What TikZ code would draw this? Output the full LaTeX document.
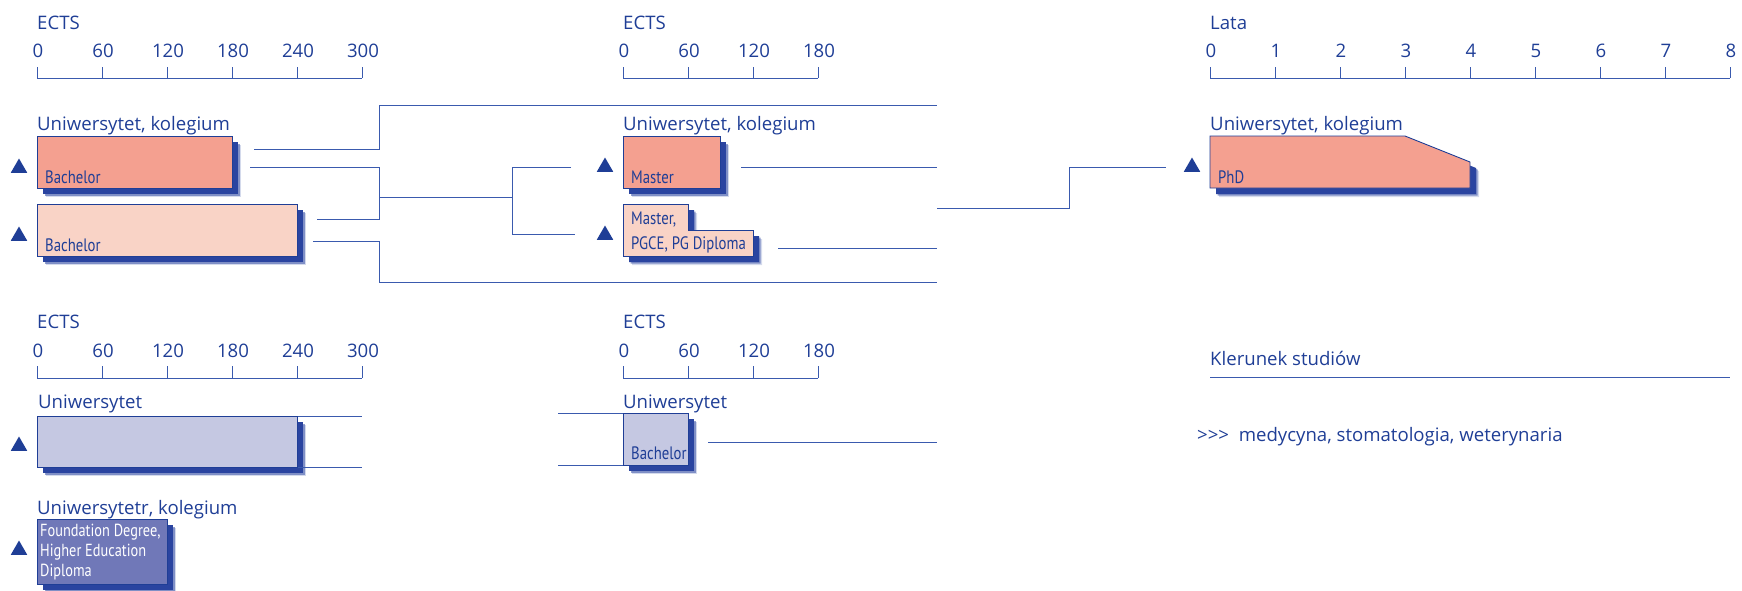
\documentclass[tikz,border=0pt]{standalone}
\usepackage{fontspec}
\setmainfont{Open Sans}
\newfontfamily\condfont[FakeStretch=0.82]{PT Sans}
\usepackage{tikz}
\usetikzlibrary{shapes.geometric,shadows,positioning}
\definecolor{ink}{HTML}{1F3E96}
\definecolor{rule}{HTML}{3A5AAE}
\definecolor{salmon}{HTML}{F4A090}
\definecolor{peach}{HTML}{F9D3C6}
\definecolor{lilac}{HTML}{C5C8E2}
\definecolor{slate}{HTML}{7078B8}
\definecolor{shade}{HTML}{2A44A0}
\tikzset{
  every picture/.style={line join=miter},
  lbl/.style={font=\fontsize{18.6}{22}\selectfont, text=ink, inner sep=0pt},
  inlbl/.style={font=\condfont\fontsize{18}{20}\selectfont, text=ink, inner sep=0pt, anchor=base west},
  scaleline/.style={draw=rule, line width=1pt},
  link/.style={draw=rule, line width=1pt},
  boxshadow/.style={
    general shadow={shadow xshift=9pt, shadow yshift=-9pt, fill=shade, opacity=0.2},
    general shadow={shadow xshift=7.5pt, shadow yshift=-7.5pt, fill=shade, opacity=0.5},
    general shadow={shadow xshift=6pt, shadow yshift=-6pt, fill=shade}},
  prog/.style={draw=ink, line width=0.9pt, boxshadow, inner sep=0pt, anchor=north west},
  marker/.style={regular polygon, regular polygon sides=3, fill=ink, minimum size=19pt, inner sep=0pt},
}

\begin{document}
\begin{tikzpicture}[x=1pt,y=-1pt]
\useasboundingbox (0,0) rectangle (1742,590);
% scales: top row
\node[lbl, anchor=base west] (ectsA) at (37,29) {ECTS};
\draw[scaleline] (37,78) -- (362,78);
\foreach \k/\v in {0/0,1/60,2/120,3/180,4/240,5/300}{
  \draw[scaleline] (37+65*\k,67) -- (37+65*\k,78);
  \node[lbl, anchor=base] (ectsA-\k) at (38+65*\k,57) {\v};
}
\node[lbl, anchor=base west] (ectsB) at (623,29) {ECTS};
\draw[scaleline] (623,78) -- (818,78);
\foreach \k/\v in {0/0,1/60,2/120,3/180}{
  \draw[scaleline] (623+65*\k,67) -- (623+65*\k,78);
  \node[lbl, anchor=base] (ectsB-\k) at (624+65*\k,57) {\v};
}
\node[lbl, anchor=base west] (lata) at (1210,29) {Lata};
\draw[scaleline] (1210,78) -- (1730,78);
\foreach \k in {0,...,8}{
  \draw[scaleline] (1210+65*\k,67) -- (1210+65*\k,78);
  \node[lbl, anchor=base] (lata-\k) at (1211+65*\k,57) {\k};
}
% scales: bottom row
\node[lbl, anchor=base west] (ectsC) at (37,328) {ECTS};
\draw[scaleline] (37,378) -- (362,378);
\foreach \k/\v in {0/0,1/60,2/120,3/180,4/240,5/300}{
  \draw[scaleline] (37+65*\k,366) -- (37+65*\k,378);
  \node[lbl, anchor=base] (ectsC-\k) at (38+65*\k,357) {\v};
}
\node[lbl, anchor=base west] (ectsD) at (623,328) {ECTS};
\draw[scaleline] (623,378) -- (818,378);
\foreach \k/\v in {0/0,1/60,2/120,3/180}{
  \draw[scaleline] (623+65*\k,366) -- (623+65*\k,378);
  \node[lbl, anchor=base] (ectsD-\k) at (624+65*\k,357) {\v};
}

% bachelor (top left)
\node[lbl, anchor=base west] (uniA) at (37,130) {Uniwersytet, kolegium};
\node[prog, fill=salmon, minimum width=195pt, minimum height=52pt] (bachA) at (37,136) {};
\node[inlbl] (bachAt) at (45,183) {Bachelor};
\node[prog, fill=peach, minimum width=260pt, minimum height=52pt] (bachB) at (37,204) {};
\node[inlbl] (bachBt) at (45,251) {Bachelor};
\node[marker] (mA) at (19,168) {};
\node[marker] (mB) at (19,236) {};

% master (top middle)
\node[lbl, anchor=base west] (uniB) at (623,130) {Uniwersytet, kolegium};
\node[prog, fill=salmon, minimum width=97pt, minimum height=52pt] (mast) at (623,136) {};
\node[inlbl] (mastt) at (631,183) {Master};
\path[draw=ink, line width=0.9pt, boxshadow, fill=peach]
  (623,204) -- (688,204) -- (688,230) -- (753,230) -- (753,256) -- (623,256) -- cycle;
\node[inlbl] (pgA) at (631,224) {Master,};
\node[inlbl] (pgB) at (631,249) {PGCE, PG Diploma};
\node[marker] (mC) at (605,167) {};
\node[marker] (mD) at (605,235) {};

% phd (top right)
\node[lbl, anchor=base west] (uniC) at (1210,130) {Uniwersytet, kolegium};
\path[draw=ink, line width=0.9pt, boxshadow, fill=salmon]
  (1210,136) -- (1405,136) -- (1470,162) -- (1470,188) -- (1210,188) -- cycle;
\node[inlbl] (phd) at (1218,183) {PhD};
\node[marker] (mE) at (1192,167) {};

% links (top)
\coordinate (oA) at (254,149);
\coordinate (oB) at (250,167);
\coordinate (oC) at (317,219);
\coordinate (oD) at (313,241);
\coordinate (sp) at (379,197);
\coordinate (iA) at (571,167);
\coordinate (iB) at (575,234);
\coordinate (oE) at (741,167);
\coordinate (oF) at (778,248);
\coordinate (iC) at (1166,167);
\draw[link] (oA) -| (379,105) -- (937,105);
\draw[link] (oB) -| (379,219) -- (oC);
\draw[link] (sp) -- (512,197);
\draw[link] (iA) -| (512,234) -- (iB);
\draw[link] (oD) -| (379,282) -- (937,282);
\draw[link] (oE) -- (937,167);
\draw[link] (oF) -- (937,248);
\draw[link] (937,208) -| (1069,167) -- (iC);

% uniwersytet (bottom left)
\node[lbl, anchor=base west] (uniD) at (38,408) {Uniwersytet};
\node[prog, fill=lilac, minimum width=260pt, minimum height=51pt] (lil) at (37,416) {};
\draw[link] (lil.north east) -- (lil.north east -| 362,0);
\draw[link] (lil.south east) -- (lil.south east -| 362,0);
\node[marker] (mF) at (19,446) {};
\node[lbl, anchor=base west] (uniE) at (37,514) {Uniwersytetr, kolegium};
\node[prog, fill=slate, minimum width=130pt, minimum height=65pt] (fd) at (37,519) {};
\node[inlbl, text=white, align=left, anchor=north west, font=\condfont\fontsize{17.5}{20}\selectfont] (fdt) at (40,524)
  {Foundation Degree,\\Higher Education\\Diploma};
\node[marker] (mG) at (19,550) {};

% uniwersytet (bottom middle)
\node[lbl, anchor=base west] (uniF) at (623,408) {Uniwersytet};
\node[prog, fill=lilac, minimum width=65pt, minimum height=52pt] (bachC) at (623,413) {};
\node[inlbl] (bachCt) at (631,459) {Bachelor};
\coordinate (iD) at (558,413);
\coordinate (iE) at (558,465);
\coordinate (oG) at (708,442);
\draw[link] (iD) -- (iD -| bachC.west);
\draw[link] (iE) -- (iE -| bachC.west);
\draw[link] (oG) -- (937,442);

% legend
\node[lbl, anchor=base west] (kier) at (1210,365) {Klerunek studiów};
\draw[link] (kier.base west |- 0,377) -- (1730,377);
\node[lbl, anchor=base west] (med) at (1197,441) {{>}{>}{>}\ \ medycyna, stomatologia, weterynaria};
\end{tikzpicture}
\end{document}
